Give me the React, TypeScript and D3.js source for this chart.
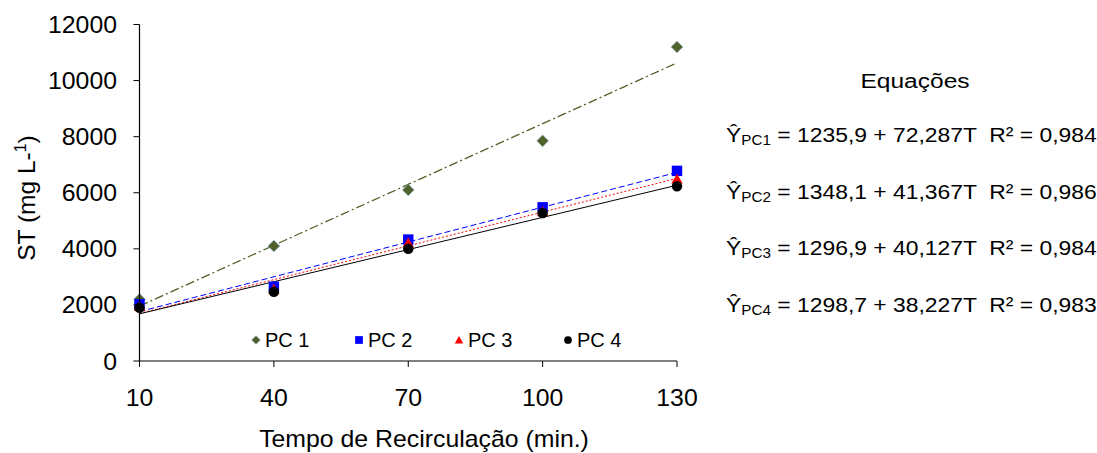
import React from "react";
import * as d3 from "d3";

// Recirculation times (min) and ST readings (mg/L) for each PC series
const times = [10, 40, 70, 100, 130];
const pc1 = [2200, 4100, 6100, 7850, 11200];
const pc2 = [2020, 2650, 4330, 5480, 6780];
const pc3 = [1950, 2550, 4200, 5320, 6480];
const pc4 = [1900, 2470, 4000, 5280, 6230];

// Linear fit coefficients (intercept, slope) and R²
const intercepts = [1235.9, 1348.1, 1296.9, 1298.7];
const slopes = [72.287, 41.367, 40.127, 38.227];
const r2 = ["0,984", "0,986", "0,984", "0,983"];
const eqIntercepts = ["1235,9", "1348,1", "1296,9", "1298,7"];
const eqSlopes = ["72,287", "41,367", "40,127", "38,227"];

const yTicks = [0, 2000, 4000, 6000, 8000, 10000, 12000];
const xTicks = [10, 40, 70, 100, 130];
const seriesNames = ["PC 1", "PC 2", "PC 3", "PC 4"];

const W = 1097;
const H = 453;
const FONT = "'Liberation Sans', Arial, sans-serif";

const x = d3.scaleLinear().domain([10, 130]).range([139.5, 677]);
const y = d3.scaleLinear().domain([0, 12000]).range([361, 24.5]);

type Style = { color: string; dash: string; width: number; shape: string };
const styles: Style[] = [
  { color: "#4F6228", dash: "9,3,2,3", width: 1.3, shape: "diamond" },
  { color: "#0000FF", dash: "6,3", width: 1, shape: "square" },
  { color: "#FF0000", dash: "2,2", width: 1, shape: "triangle" },
  { color: "#000000", dash: "", width: 1, shape: "circle" },
];
const seriesValues = [pc1, pc2, pc3, pc4];

function Txt({ x0, y0, size, sx = 1, anchor = "start", rotate = 0, children }: any) {
  return (
    <g transform={`translate(${x0},${y0}) scale(${sx},1) rotate(${rotate})`}>
      <text
        x={0}
        y={0}
        fontFamily={FONT}
        fontSize={size}
        textAnchor={anchor}
        fill="#000"
        xmlSpace="preserve"
      >
        {children}
      </text>
    </g>
  );
}

function Marker({ shape, cx, cy, s, color }: any) {
  if (shape === "diamond") {
    return (
      <path
        d={`M${cx},${cy - s}L${cx + s},${cy}L${cx},${cy + s}L${cx - s},${cy}Z`}
        fill={color}
        stroke="#7F9CC0"
        strokeWidth={0.7}
      />
    );
  }
  if (shape === "square") {
    return <rect x={cx - s * 0.9} y={cy - s * 0.9} width={s * 1.8} height={s * 1.8} fill={color} />;
  }
  if (shape === "triangle") {
    const sym = d3.symbol(d3.symbolTriangle, s * s * 1.7)();
    return <path d={sym || ""} transform={`translate(${cx},${cy + 1})`} fill={color} />;
  }
  return <circle cx={cx} cy={cy} r={s * 0.9} fill={color} />;
}

export default function App() {
  return (
    <svg width={W} height={H} style={{ position: "absolute", left: 0, top: 0 }}>
      <rect width={W} height={H} fill="#fff" />

      {/* trend lines */}
      {intercepts.map((b, i) => {
        const d = d3
          .line<number>()
          .x((t) => x(t))
          .y((t) => y(b + slopes[i] * t))([10, 130]);
        return (
          <path
            key={"fit" + i}
            d={d || ""}
            fill="none"
            stroke={styles[i].color}
            strokeWidth={styles[i].width}
            strokeDasharray={styles[i].dash || undefined}
          />
        );
      })}

      {/* data markers */}
      {seriesValues.map((vals, i) =>
        vals.map((v, j) => (
          <Marker
            key={`m${i}-${j}`}
            shape={styles[i].shape}
            cx={x(times[j])}
            cy={y(v)}
            s={5.8}
            color={styles[i].color}
          />
        ))
      )}

      {/* axes */}
      <line x1={x(10)} x2={x(10)} y1={y(12000)} y2={y(0)} stroke="#000" strokeWidth={1.2} />
      <line x1={x(10)} x2={x(130)} y1={y(0)} y2={y(0)} stroke="#000" strokeWidth={1.2} />
      {yTicks.map((t) => (
        <g key={"yt" + t}>
          <line x1={x(10) - 6} x2={x(10)} y1={y(t)} y2={y(t)} stroke="#000" strokeWidth={1} />
          <Txt x0={117} y0={y(t) + 8.5} size={23} sx={1.08} anchor="end">
            {String(t)}
          </Txt>
        </g>
      ))}
      {xTicks.map((t) => (
        <g key={"xt" + t}>
          <line x1={x(t)} x2={x(t)} y1={y(0)} y2={y(0) + 6} stroke="#000" strokeWidth={1} />
          <Txt x0={x(t)} y0={406} size={23} sx={1.08} anchor="middle">
            {String(t)}
          </Txt>
        </g>
      ))}

      {/* axis titles */}
      <Txt x0={424} y0={447} size={23} sx={1.08} anchor="middle">
        Tempo de Recirculação (min.)
      </Txt>
      <Txt x0={35} y0={198} size={24.5} anchor="middle" rotate={-90}>
        ST (mg L-<tspan fontSize={16} dy={-9}>1</tspan>
        <tspan dy={9}>)</tspan>
      </Txt>

      {/* legend */}
      {seriesNames.map((name, i) => {
        const lx = [256, 359, 459, 568][i];
        return (
          <g key={"lg" + i}>
            <Marker shape={styles[i].shape} cx={lx} cy={340} s={4.3} color={styles[i].color} />
            <Txt x0={lx + 9} y0={347} size={20}>
              {name}
            </Txt>
          </g>
        );
      })}

      {/* fitted equations */}
      <Txt x0={915} y0={88} size={21} sx={1.17} anchor="middle">
        Equações
      </Txt>
      {intercepts.map((_, i) => (
        <Txt key={"eq" + i} x0={726} y0={142 + i * 56.7} size={21} sx={1.09}>
          Ŷ<tspan fontSize={14} dy={3}>{`PC${i + 1}`}</tspan>
          <tspan dy={-3}>{` = ${eqIntercepts[i]} + ${eqSlopes[i]}T  R² = ${r2[i]}`}</tspan>
        </Txt>
      ))}
    </svg>
  );
}
